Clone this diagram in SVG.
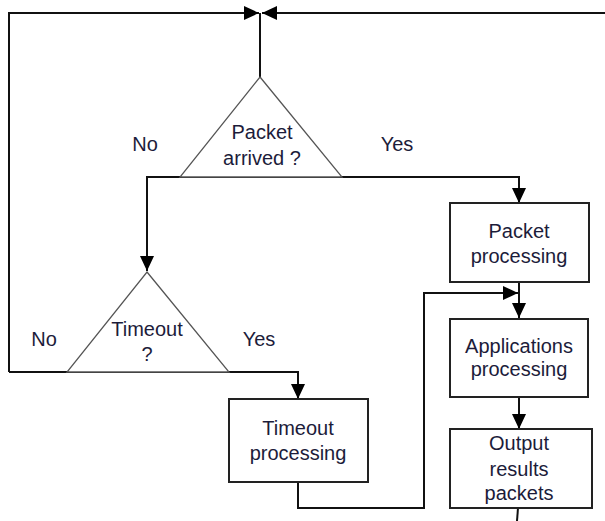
<svg xmlns="http://www.w3.org/2000/svg" width="605" height="521" viewBox="0 0 605 521">
<style>
.tri{fill:#fff;stroke:#555;stroke-width:1.3}
.box{fill:#fff;stroke:#222;stroke-width:2}
.ln{fill:none;stroke:#111;stroke-width:2}
text{font-family:"Liberation Sans",Arial,sans-serif;font-size:20px;fill:#1c1c3a;text-anchor:middle}
</style>
<defs>
<marker id="ah" markerUnits="userSpaceOnUse" markerWidth="16" markerHeight="16" viewBox="0 0 16 16" refX="15" refY="8" orient="auto">
<path d="M0,1 L15,8 L0,15 Z" fill="#000"/>
</marker>
</defs>
<g id="connectors">
<path class="ln" d="M9,372 L9,13 L259,13" marker-end="url(#ah)"/>
<path class="ln" d="M605,13 L262,13" marker-end="url(#ah)"/>
<path class="ln" d="M260,77 L260,13"/>
<path class="ln" d="M180,177 L147,177 L147,271" marker-end="url(#ah)"/>
<path class="ln" d="M342,177 L519,177 L519,203" marker-end="url(#ah)"/>
<path class="ln" d="M519,282 L519,318" marker-end="url(#ah)"/>
<path class="ln" d="M298,482 L298,508 L424,508 L424,293 L518,293" marker-end="url(#ah)"/>
<path class="ln" d="M67,372 L9,372"/>
<path class="ln" d="M229,372 L298,372 L298,399" marker-end="url(#ah)"/>
<path class="ln" d="M519,397 L519,429" marker-end="url(#ah)"/>
<path class="ln" d="M518,508 L517,521"/>
<path class="ln" d="M180,177 L342,177"/>
<path class="ln" d="M67,372 L229,372"/>
</g>
<g id="packet-arrived">
<path class="tri" d="M260,77 L342,177 L180,177 Z"/>
<text x="262" y="139">Packet</text>
<text x="262" y="165">arrived ?</text>
</g>
<g id="timeout-q">
<path class="tri" d="M147,272 L229,372 L67,372 Z"/>
<text x="147" y="336">Timeout</text>
<text x="147" y="361">?</text>
</g>
<g id="packet-processing">
<rect class="box" x="450" y="203" width="139" height="79"/>
<text x="519" y="238">Packet</text>
<text x="519" y="263">processing</text>
</g>
<g id="applications-processing">
<rect class="box" x="450" y="319" width="138" height="78"/>
<text x="519" y="353">Applications</text>
<text x="519" y="376">processing</text>
</g>
<g id="output-results">
<rect class="box" x="450" y="429" width="142" height="79"/>
<text x="519" y="450">Output</text>
<text x="519" y="476">results</text>
<text x="519" y="500">packets</text>
</g>
<g id="timeout-processing">
<rect class="box" x="229" y="399" width="139" height="83"/>
<text x="298" y="435">Timeout</text>
<text x="298" y="460">processing</text>
</g>
<g id="labels">
<text x="145" y="151">No</text>
<text x="397" y="151">Yes</text>
<text x="44" y="346">No</text>
<text x="259" y="346">Yes</text>
</g>
</svg>
